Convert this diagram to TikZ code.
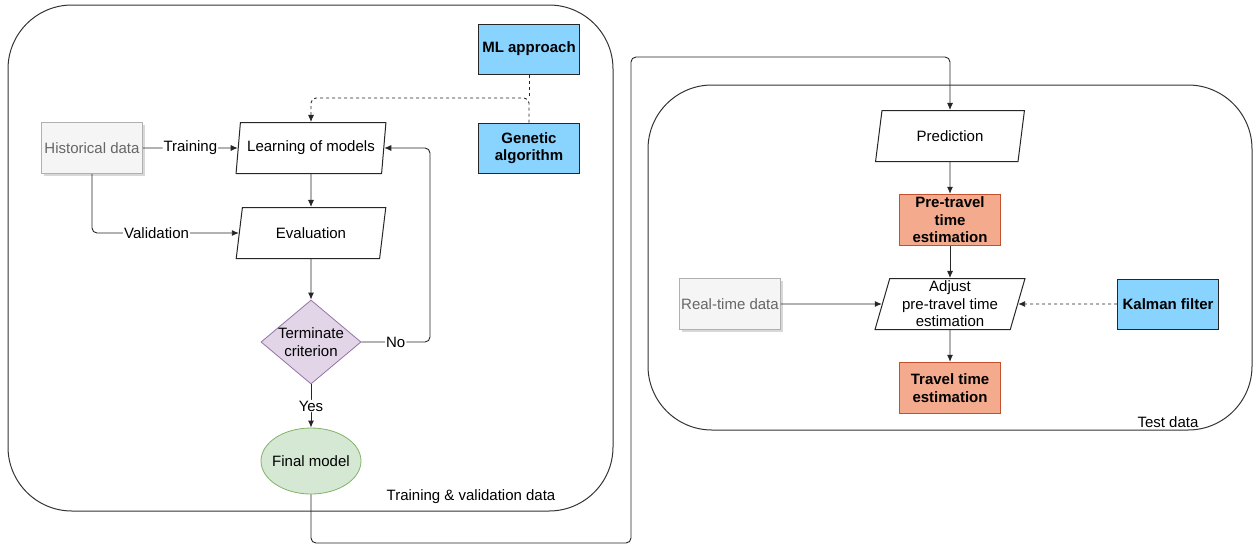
\documentclass[tikz,border=0pt]{standalone}
\usepackage{fontspec}
\setmainfont{Liberation Sans}
\usepackage{tikz}
\usetikzlibrary{shapes.geometric}
\usetikzlibrary{arrows.meta}
\usetikzlibrary{shadows}
\definecolor{mlblue}{HTML}{88D4FF}
\definecolor{salmon}{HTML}{F4AB8D}
\definecolor{salmonline}{HTML}{C4502E}
\definecolor{violetfill}{HTML}{E1D5E7}
\definecolor{violetline}{HTML}{9673A6}
\definecolor{greenfill}{HTML}{D5E8D4}
\definecolor{greenline}{HTML}{82B366}
\definecolor{datafill}{HTML}{F5F5F5}
\definecolor{dataline}{HTML}{B0B0B0}
\definecolor{datatext}{HTML}{666666}
\newcommand{\figfont}{\fontsize{15}{17.5}\selectfont}
\tikzset{
  container/.style={draw=black!80, line width=1pt, rounded corners=64pt},
  method/.style={draw=black!85, fill=mlblue, line width=1pt, minimum width=101pt, minimum height=50pt, align=center, font=\figfont\bfseries},
  estim/.style={draw=salmonline, fill=salmon, line width=1.2pt, minimum width=101pt, minimum height=51pt, align=center, inner sep=1pt, font=\figfont\bfseries},
  dataset/.style={draw=dataline, fill=datafill, text=datatext, line width=0.8pt, minimum width=101pt, minimum height=51pt, inner sep=1pt,
    drop shadow={shadow xshift=2pt, shadow yshift=-2pt, fill=black!30}},
  io/.style={trapezium, trapezium left angle=76, trapezium right angle=104, trapezium stretches=true, draw=black!85, line width=1pt,
    minimum width=150pt, minimum height=51pt, inner sep=1pt, align=center},
  lbl/.style={fill=white, inner sep=1pt},
  every node/.style={font=\figfont}
}
\begin{document}
\begin{tikzpicture}[x=1pt,y=-1pt]
  \useasboundingbox (0,0) rectangle (1260,544);
  % containers
  \draw[container] (8,5) rectangle (613,511);
  \draw[container] (648,85) rectangle (1252,430);
  \node (trainlbl) at (471,497) {Training \& validation data};
  \node (testlbl) at (1168,422) {Test data};

  % training and validation
  \node[method] (ml) at (529,49) {ML approach};
  \node[method] (ga) at (529,148) {Genetic\\algorithm};
  \node[dataset] (hist) at (92,148) {Historical data};
  \node[io] (learn) at (311,148) {Learning of models};
  \node[io] (eval) at (311,233) {Evaluation};
  \node[diamond, draw=violetline, fill=violetfill, line width=0.8pt, aspect=1.2, minimum width=100pt, minimum height=84pt, inner sep=0pt, align=center] (term) at (311,342) {Terminate\\criterion};
  \node[ellipse, draw=greenline, fill=greenfill, line width=0.8pt, inner xsep=-5pt, inner ysep=0pt, minimum width=100pt, minimum height=66pt] (final) at (311,461) {Final model};

  % test
  \node[io] (pred) at (950,136) {Prediction};
  \node[estim] (pre) at (950,220) {Pre-travel\\time\\estimation};
  \node[io] (adjust) at (950,304) {Adjust\\pre-travel time\\estimation};
  \node[dataset] (rt) at (730,304) {Real-time data};
  \node[method] (kf) at (1168,304) {Kalman filter};
  \node[estim] (travel) at (950,388) {Travel time\\estimation};

  \coordinate (join) at (529,98);
  \coordinate (loop) at (430,342);
  \coordinate (lo) at (631,543);
  \coordinate (hi) at (631,57);

  \begin{scope}[line width=0.9pt, draw=black!85, >={Latex[length=7pt,width=6pt]}, rounded corners=5pt]
    \draw[->] (hist) -- node[lbl] {Training} (learn);
    \draw[->] (hist.south) |- node[lbl, pos=0.72] {Validation} (eval.west);
    \draw[->] (learn) -- (eval);
    \draw[->] (eval) -- (term);
    \draw[->] (term) -- node[lbl] {Yes} (final);
    \draw[->] (term.east) -- node[lbl, pos=0.5] {No} (loop) |- (learn.east);
    \draw[dashed] (ml.south) -- (join);
    \draw[dashed, ->] (ga.north) -- (join) -| (learn.north);
    \draw[->] (final.south) |- (lo) -- (hi) -| (pred.north);
    \draw[->] (pred) -- (pre);
    \draw[->] (pre) -- (adjust);
    \draw[->] (adjust) -- (travel);
    \draw[->] (rt) -- (adjust);
    \draw[dashed, ->] (kf) -- (adjust);
  \end{scope}
\end{tikzpicture}
\end{document}
